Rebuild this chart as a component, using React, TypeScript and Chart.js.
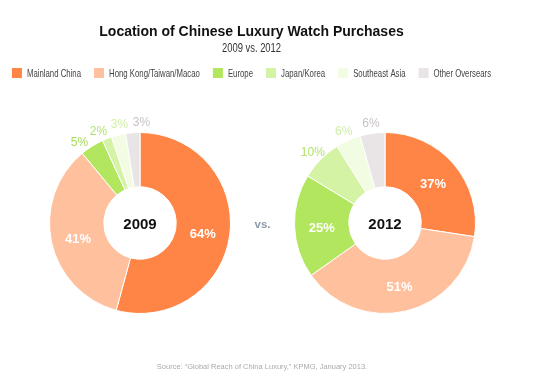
import React, { useEffect, useRef } from 'react';
import { Chart, registerables } from 'chart.js';

Chart.register(...registerables);

// ---------- data ----------
const categories = ['Mainland China', 'Hong Kong/Taiwan/Macao', 'Europe', 'Japan/Korea', 'Southeast Asia', 'Other Oversears'];
const values2009 = [64, 41, 5, 2, 3, 3];
const values2012 = [37, 51, 25, 10, 6, 6];
const valueLabels2009 = ['64%', '41%', '5%', '2%', '3%', '3%'];
const valueLabels2012 = ['37%', '51%', '25%', '10%', '6%', '6%'];
const yearLabels = ['2009', '2012'];
const titleText = 'Location of Chinese Luxury Watch Purchases';
const subtitleText = '2009 vs. 2012';
const vsText = 'vs.';
const sourceText = 'Source: \u201cGlobal Reach of China Luxury,\u201d KPMG, January 2013.';

// ---------- styles ----------
const sliceColors = ['#FF8547', '#FFC09E', '#B2E65E', '#D4F3A5', '#F2FCE2', '#E9E5E6'];
const outerLabelColors = ['#FF8547', '#FFC09E', '#A6DC58', '#B4E26F', '#D2EFAA', '#C9C2C7'];
const SANS = '"Liberation Sans", Arial, Helvetica, sans-serif';
const A_OFFSET = 40; // canvas A starts 40px left of the page edge
const HEADER_CX = 251.5;

function makeLabelPlugin(labels: string[], centerText: string) {
  return {
    id: 'sliceLabels',
    afterDatasetsDraw(chart: any) {
      const meta = chart.getDatasetMeta(0);
      const ds = chart.data.datasets[0].data as number[];
      const total = ds.reduce((a, b) => a + b, 0);
      const ctx = chart.ctx as CanvasRenderingContext2D;
      ctx.save();
      ctx.textAlign = 'center';
      ctx.textBaseline = 'middle';
      const outer: { i: number; a: number }[] = [];
      let cx = 0, cy = 0, R = 0;
      meta.data.forEach((el: any, i: number) => {
        const p = el.getProps(['x', 'y', 'startAngle', 'endAngle', 'innerRadius', 'outerRadius'], true);
        cx = p.x; cy = p.y; R = p.outerRadius;
        const mid = (p.startAngle + p.endAngle) / 2;
        if (ds[i] / total >= 0.12) {
          const r = (p.innerRadius + p.outerRadius) / 2;
          ctx.font = `bold 13px ${SANS}`;
          ctx.fillStyle = '#ffffff';
          ctx.fillText(labels[i], p.x + r * Math.cos(mid), p.y + r * Math.sin(mid) + 3);
        } else {
          outer.push({ i, a: mid });
        }
      });
      const G = (12.5 * Math.PI) / 180;
      for (let k = 0; k < 100; k++) {
        for (let j = 1; j < outer.length; j++) {
          const d = outer[j].a - outer[j - 1].a;
          if (d < G) {
            const s = (G - d) / 2;
            outer[j - 1].a -= s;
            outer[j].a += s;
          }
        }
      }
      ctx.font = `12px ${SANS}`;
      outer.forEach(({ i, a }) => {
        const r = R + 11;
        ctx.fillStyle = outerLabelColors[i];
        ctx.fillText(labels[i], cx + r * Math.cos(a), cy + r * Math.sin(a) + 1);
      });
      ctx.font = `bold 15px ${SANS}`;
      ctx.fillStyle = '#111111';
      ctx.fillText(centerText, cx, cy + 2);
      ctx.restore();
    },
  };
}

const areaPlugin = {
  id: 'placeArea',
  afterLayout(chart: any) {
    const left = 49 + A_OFFSET;
    const top = 132;
    const size = 182;
    chart.chartArea = { left, top, right: left + size, bottom: top + size, width: size, height: size };
  },
};

function condensedText(ctx: CanvasRenderingContext2D, text: string, x: number, y: number, k: number, align: CanvasTextAlign) {
  ctx.save();
  ctx.translate(x, y);
  ctx.scale(k, 1);
  ctx.textAlign = align;
  ctx.fillText(text, 0, 0);
  ctx.restore();
}

const headerPlugin = {
  id: 'header',
  afterDraw(chart: any) {
    const ctx = chart.ctx as CanvasRenderingContext2D;
    ctx.save();
    ctx.textBaseline = 'middle';
    // subtitle
    ctx.font = `12px ${SANS}`;
    ctx.fillStyle = '#333333';
    condensedText(ctx, subtitleText, HEADER_CX + A_OFFSET, 49, 0.785, 'center');
    // legend
    const k = 0.66;
    ctx.font = `11.8px ${SANS}`;
    const widths = categories.map((c) => 15 + ctx.measureText(c).width * k);
    const gap = 13;
    const total = widths.reduce((a, b) => a + b, 0) + gap * (categories.length - 1);
    let x = HEADER_CX + A_OFFSET - total / 2;
    categories.forEach((c, i) => {
      ctx.fillStyle = sliceColors[i];
      ctx.fillRect(x, 68, 10, 10);
      ctx.fillStyle = '#444444';
      condensedText(ctx, c, x + 15, 73.5, k, 'left');
      x += widths[i] + gap;
    });
    // vs. and source
    ctx.textAlign = 'center';
    ctx.font = `bold 11.5px ${SANS}`;
    ctx.fillStyle = '#8E9AAB';
    ctx.fillText(vsText, 262.5 + A_OFFSET, 225);
    ctx.font = `7.5px ${SANS}`;
    ctx.fillStyle = '#ABABAB';
    ctx.fillText(sourceText, 262 + A_OFFSET, 366.5);
    ctx.restore();
  },
};

export default function App() {
  const refA = useRef<HTMLCanvasElement>(null);
  const refB = useRef<HTMLCanvasElement>(null);

  useEffect(() => {
    const chartA = new Chart(refA.current as HTMLCanvasElement, {
      type: 'doughnut',
      data: {
        labels: categories,
        datasets: [{ data: values2009, backgroundColor: sliceColors, borderColor: '#ffffff', borderWidth: 1, hoverOffset: 0 }],
      },
      options: {
        responsive: false,
        animation: false,
        cutout: '40%',
        events: [],
        plugins: {
          title: {
            display: true,
            text: titleText,
            color: '#111111',
            font: { family: SANS, size: 14, weight: 'bold', lineHeight: 1.2 },
            padding: { top: 23.5, bottom: 2 },
          },
          subtitle: { display: false },
          legend: { display: false },
          tooltip: { enabled: false },
        },
      } as any,
      plugins: [areaPlugin, makeLabelPlugin(valueLabels2009, yearLabels[0]), headerPlugin],
    });

    const chartB = new Chart(refB.current as HTMLCanvasElement, {
      type: 'doughnut',
      data: {
        labels: categories,
        datasets: [{ data: values2012, backgroundColor: sliceColors, borderColor: '#ffffff', borderWidth: 1, hoverOffset: 0 }],
      },
      options: {
        responsive: false,
        animation: false,
        cutout: '40%',
        events: [],
        layout: { padding: 29 },
        plugins: {
          title: { display: false },
          legend: { display: false },
          tooltip: { enabled: false },
        },
      } as any,
      plugins: [makeLabelPlugin(valueLabels2012, yearLabels[1])],
    });

    return () => {
      chartA.destroy();
      chartB.destroy();
    };
  }, []);

  return (
    <div style={{ position: 'absolute', left: 0, top: 0, width: 546, height: 373, overflow: 'hidden', background: '#ffffff' }}>
      <canvas ref={refA} width={583} height={373} style={{ position: 'absolute', left: -A_OFFSET, top: 0, width: 583, height: 373 }} />
      <canvas ref={refB} width={240} height={240} style={{ position: 'absolute', left: 265, top: 103, width: 240, height: 240 }} />
    </div>
  );
}
